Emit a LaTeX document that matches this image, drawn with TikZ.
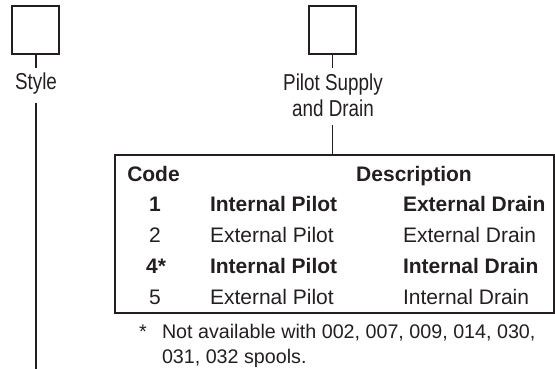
\documentclass[tikz,border=0pt]{standalone}
\usepackage{fontspec}
\setmainfont{Liberation Sans}
\newfontfamily\narrowfont[FakeStretch=0.82]{Liberation Sans}
\definecolor{ink}{RGB}{35,31,32}
\begin{document}
\begin{tikzpicture}[x=1pt,y=-1pt,
  every node/.style={inner sep=0pt, outer sep=0pt, text=ink},
  selbox/.style={draw=ink, line width=1.6pt, minimum width=47pt, minimum height=48pt},
  conn/.style={draw=ink, line width=1.6pt},
  frame/.style={draw=ink, line width=1.4pt, minimum width=439pt, minimum height=158pt},
  lbl/.style={font=\narrowfont\fontsize{23}{26.5}\selectfont},
  tbl/.style={font=\fontsize{21}{25}\selectfont},
  tblb/.style={font=\fontsize{21}{25}\selectfont\bfseries},
  note/.style={font=\fontsize{19.7}{24}\selectfont}]
\useasboundingbox (0,0) rectangle (555,369);
% selection boxes
\node[selbox] (boxL) at (35.5,30) {};
\node[selbox] (boxR) at (332.3,30) {};
% labels
\node[lbl, anchor=base] (style) at (36,89.3) {Style};
\node[lbl, anchor=base] (pilotA) at (333,90.7) {Pilot Supply};
\node[lbl, anchor=base] (pilotB) at (333,117) {and Drain};
% connectors
\coordinate (s1) at (36,68);
\coordinate (s2) at (36,103);
\coordinate (s3) at (36,369);
\coordinate (p1) at (332.5,68);
\coordinate (p2) at (332.5,125);
\draw[conn] (boxL.south -| s1) -- (s1);
\draw[conn] (s2) -- (s3);
\draw[conn] (boxR.south -| p1) -- (p1);
% table
\node[frame, anchor=north west] (table) at (115,155) {};
\draw[conn] (p2) -- (p2 |- table.north);
% header
\node[tblb, anchor=base] (hcode) at (153.5,181) {Code};
\node[tblb, anchor=base] (hdesc) at (414,181) {Description};
% rows
\node[tblb, anchor=base] (c1) at (155,211.75) {1};
\node[tblb, anchor=base west] (p1t) at (210,211.75) {Internal Pilot};
\node[tblb, anchor=base west] (d1t) at (403,211.75) {External Drain};
\node[tbl, anchor=base] (c2) at (155,242.5) {2};
\node[tbl, anchor=base west] (p2t) at (210,242.5) {External Pilot};
\node[tbl, anchor=base west] (d2t) at (403,242.5) {External Drain};
\node[tblb, anchor=base] (c4) at (156,273.25) {4*};
\node[tblb, anchor=base west] (p4t) at (210,273.25) {Internal Pilot};
\node[tblb, anchor=base west] (d4t) at (403,273.25) {Internal Drain};
\node[tbl, anchor=base] (c5) at (155,304) {5};
\node[tbl, anchor=base west] (p5t) at (210,304) {External Pilot};
\node[tbl, anchor=base west] (d5t) at (403,304) {Internal Drain};
% footnote
\node[note, anchor=base west] (star) at (139,338) {*};
\node[note, anchor=base west] (noteA) at (162,338) {Not available with 002, 007, 009, 014, 030,};
\node[note, anchor=base west] (noteB) at (162,363) {031, 032 spools.};
\end{tikzpicture}
\end{document}
